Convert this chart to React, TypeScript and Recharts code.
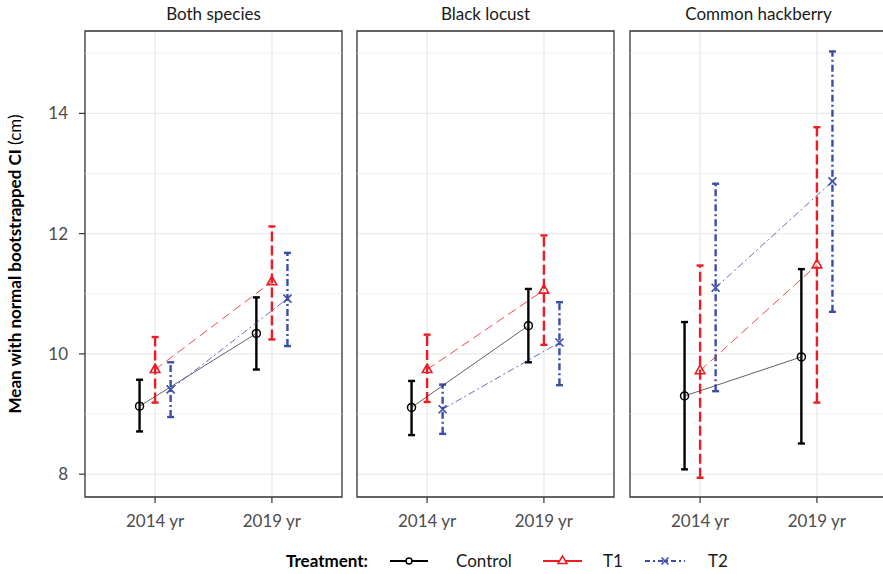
import {
  CartesianGrid,
  ComposedChart,
  ErrorBar,
  ReferenceArea,
  ReferenceLine,
  Scatter,
  XAxis,
  YAxis,
} from "recharts";

const panels = ["Both species", "Black locust", "Common hackberry"];
const years = ["2014 yr", "2019 yr"];

// [panel][year]
const controlMean = [[9.13, 10.34], [9.11, 10.47], [9.3, 9.95]];
const controlLow = [[8.71, 9.74], [8.65, 9.86], [8.08, 8.51]];
const controlHigh = [[9.57, 10.94], [9.55, 11.08], [10.53, 11.41]];
const t1Mean = [[9.74, 11.2], [9.74, 11.06], [9.72, 11.48]];
const t1Low = [[9.19, 10.24], [9.2, 10.15], [7.94, 9.19]];
const t1High = [[10.28, 12.12], [10.32, 11.97], [11.47, 13.77]];
const t2Mean = [[9.41, 10.92], [9.08, 10.19], [11.1, 12.87]];
const t2Low = [[8.95, 10.13], [8.67, 9.48], [9.38, 10.7]];
const t2High = [[9.86, 11.68], [9.49, 10.86], [12.83, 15.03]];

const yTicks = [8, 10, 12, 14];
const yMinor = [9, 11, 13, 15];
const Y_DOMAIN: [number, number] = [7.62, 15.37];
const X_DOMAIN: [number, number] = [0.4, 2.6];

const FONT = "Lato, 'Open Sans', sans-serif";
const RED = "#ED1C24";
const BLUE = "#3B4DA8";

const series = [
  { name: "Control", mean: controlMean, low: controlLow, high: controlHigh, dx: -0.133, color: "#000", lineColor: "#3a3a3a", barDash: undefined, lineDash: undefined, kind: "circle" },
  { name: "T1", mean: t1Mean, low: t1Low, high: t1High, dx: 0, color: RED, lineColor: RED, barDash: "10 4", lineDash: "9 5", kind: "triangle" },
  { name: "T2", mean: t2Mean, low: t2Low, high: t2High, dx: 0.133, color: BLUE, lineColor: BLUE, barDash: "7 3 2 3", lineDash: "7 3 2 3", kind: "cross" },
];

function Marker({ cx, cy, kind, color }: any) {
  if (cx == null || cy == null) return null;
  if (kind === "circle")
    return <circle cx={cx} cy={cy} r={4} fill="none" stroke={color} strokeWidth={1.5} />;
  if (kind === "triangle")
    return (
      <path
        d={`M${cx},${cy - 5.5}L${cx - 4.8},${cy + 3}L${cx + 4.8},${cy + 3}Z`}
        fill="none"
        stroke={color}
        strokeWidth={1.6}
      />
    );
  return (
    <path
      d={`M${cx - 4},${cy - 4}L${cx + 4},${cy + 4}M${cx - 4},${cy + 4}L${cx + 4},${cy - 4}`}
      stroke={color}
      strokeWidth={1.6}
    />
  );
}

function rows(s: (typeof series)[number], p: number) {
  return years.map((_, i) => ({
    x: i + 1 + s.dx,
    y: s.mean[p][i],
    err: [s.mean[p][i] - s.low[p][i], s.high[p][i] - s.mean[p][i]],
  }));
}

function Panel({ p, width, margin, showY }: { p: number; width: number; margin: any; showY: boolean }) {
  return (
    <ComposedChart width={width} height={540} margin={margin}>
      {yMinor.map((v) => (
        <ReferenceLine key={v} y={v} stroke="#EBEBEB" strokeWidth={0.7} ifOverflow="hidden" />
      ))}
      <CartesianGrid
        stroke="#EBEBEB"
        strokeWidth={1.4}
        horizontalValues={yTicks}
        verticalValues={[1, 2]}
      />
      <XAxis
        dataKey="x"
        type="number"
        domain={X_DOMAIN}
        ticks={[1, 2]}
        allowDataOverflow
        tickFormatter={(v: number) => years[Math.round(v) - 1]}
        height={43}
        tickSize={6}
        tickMargin={12}
        axisLine={false}
        tickLine={{ stroke: "#333", strokeWidth: 1.2 }}
        tick={{ fill: "#4D4D4D", fontSize: 17, fontFamily: FONT }}
      />
      <YAxis
        dataKey="y"
        type="number"
        domain={Y_DOMAIN}
        ticks={yTicks}
        allowDataOverflow
        hide={!showY}
        width={85}
        tickSize={6}
        tickMargin={11}
        axisLine={false}
        tickLine={{ stroke: "#333", strokeWidth: 1.2 }}
        tick={{ fill: "#4D4D4D", fontSize: 17, fontFamily: FONT }}
      />
      {series.map((s) => (
        <Scatter
          key={s.name}
          name={s.name}
          data={rows(s, p)}
          fill={s.color}
          line={{ stroke: s.lineColor, strokeWidth: 0.8, strokeDasharray: s.lineDash }}
          lineJointType="linear"
          shape={(props: any) => <Marker {...props} kind={s.kind} color={s.color} />}
          isAnimationActive={false}
        >
          <ErrorBar
            dataKey="err"
            direction="y"
            width={3.5}
            stroke={s.color}
            strokeWidth={2.4}
            strokeDasharray={s.barDash}
            isAnimationActive={false}
          />
        </Scatter>
      ))}
      <ReferenceArea
        x1={X_DOMAIN[0]}
        x2={X_DOMAIN[1]}
        y1={Y_DOMAIN[0]}
        y2={Y_DOMAIN[1]}
        fill="none"
        stroke="#333"
        strokeWidth={1.3}
        ifOverflow="visible"
      />
    </ComposedChart>
  );
}

const layout = [
  { left: 0, width: 344, margin: { top: 31, right: 2, bottom: 0, left: 0 }, center: 213.5 },
  { left: 349, width: 270, margin: { top: 31, right: 5, bottom: 0, left: 8 }, center: 485.5 },
  { left: 622, width: 270, margin: { top: 31, right: 5, bottom: 0, left: 8 }, center: 758.5 },
];

export default function App() {
  return (
    <div
      style={{
        position: "absolute",
        left: 0,
        top: 0,
        width: 883,
        height: 574,
        overflow: "hidden",
        background: "#fff",
        fontFamily: FONT,
      }}
    >
      {panels.map((title, p) => (
        <div key={title} style={{ position: "absolute", left: layout[p].left, top: 0 }}>
          <Panel p={p} width={layout[p].width} margin={layout[p].margin} showY={p === 0} />
        </div>
      ))}
      <svg
        width={883}
        height={574}
        style={{ position: "absolute", left: 0, top: 0, pointerEvents: "none" }}
        fontFamily={FONT}
      >
        {panels.map((title, p) => (
          <text key={title} x={layout[p].center} y={20} textAnchor="middle" fontSize={17} fill="#1A1A1A">
            {title}
          </text>
        ))}
        <text
          transform="translate(21,264) rotate(-90)"
          textAnchor="middle"
          fontSize={17}
          fill="#000"
        >
          <tspan fontWeight="bold">Mean with normal bootstrapped CI</tspan>
          <tspan> (cm)</tspan>
        </text>
        <text x={286} y={567} fontSize={17} fontWeight="bold" fill="#000">
          Treatment:
        </text>
        <line x1={390} x2={428} y1={561} y2={561} stroke="#000" strokeWidth={2} />
        <circle cx={409} cy={561} r={3} fill="#fff" stroke="#000" strokeWidth={1.4} />
        <text x={456} y={567} fontSize={17} fill="#1A1A1A">Control</text>
        <line x1={543} x2={582} y1={561} y2={561} stroke={RED} strokeWidth={2} />
        <path d="M562.5,556L558,563.5L567,563.5Z" fill="#fff" stroke={RED} strokeWidth={1.5} />
        <text x={603} y={567} fontSize={17} fill="#1A1A1A">T1</text>
        <line x1={645} x2={685} y1={561} y2={561} stroke={BLUE} strokeWidth={2} strokeDasharray="5 3 2 3" />
        <path d="M661.5,557.5L668.5,564.5M661.5,564.5L668.5,557.5" stroke={BLUE} strokeWidth={1.6} />
        <text x={708} y={567} fontSize={17} fill="#1A1A1A">T2</text>
      </svg>
    </div>
  );
}
